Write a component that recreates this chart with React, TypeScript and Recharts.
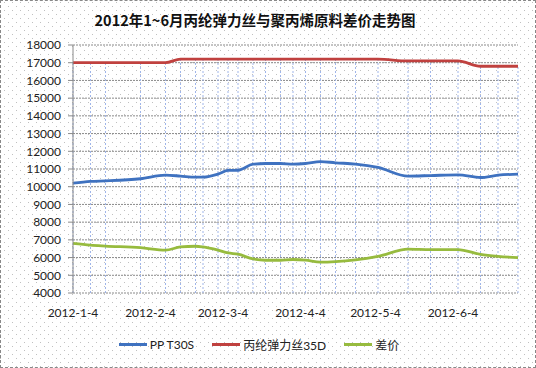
import React from "react";
import {
  LineChart,
  Line,
  XAxis,
  YAxis,
  CartesianGrid,
  ReferenceLine,
  Legend,
} from "recharts";

const dates = [
  "2012-1-4", "2012-1-11", "2012-1-17", "2012-1-31", "2012-2-10", "2012-2-16",
  "2012-2-22", "2012-2-25", "2012-3-2", "2012-3-6", "2012-3-10", "2012-3-16",
  "2012-3-21", "2012-3-27", "2012-4-1", "2012-4-6", "2012-4-12", "2012-4-18",
  "2012-4-26", "2012-5-5", "2012-5-17", "2012-5-26", "2012-6-6", "2012-6-15",
  "2012-6-22", "2012-6-30",
];

const ppT30s = [
  10200, 10300, 10330, 10450, 10650, 10600, 10540, 10540, 10710, 10920, 10930, 11270,
  11310, 11310, 11270, 11310, 11420, 11350, 11280, 11090, 10600, 10630, 10670, 10520,
  10650, 10710,
];

const fiber35d = [
  17000, 17000, 17000, 17000, 17000, 17200, 17200, 17200, 17200, 17200, 17200, 17200,
  17200, 17200, 17200, 17200, 17200, 17200, 17200, 17200, 17100, 17100, 17100, 16800,
  16800, 16800,
];

const spread = [
  6800, 6700, 6650, 6560, 6420, 6600, 6640, 6600, 6420, 6260, 6190, 5920,
  5850, 5850, 5890, 5850, 5740, 5770, 5870, 6070, 6480, 6450, 6450, 6180,
  6070, 6000,
];

const tickDates = ["2012-1-4", "2012-2-4", "2012-3-4", "2012-4-4", "2012-5-4", "2012-6-4"];
const yTicks = [4000, 5000, 6000, 7000, 8000, 9000, 10000, 11000, 12000, 13000, 14000, 15000, 16000, 17000, 18000];

const toTime = (s: string) => {
  const [y, m, d] = s.split("-").map(Number);
  return Date.UTC(y, m - 1, d);
};

const fmtDate = (t: number) => {
  const d = new Date(t);
  return `${d.getUTCFullYear()}-${d.getUTCMonth() + 1}-${d.getUTCDate()}`;
};

const data = dates.map((d, i) => ({
  t: toTime(d),
  pp: ppT30s[i],
  fiber: fiber35d[i],
  spread: spread[i],
}));

const FONT = "Lato, 'Noto Sans CJK SC', sans-serif";

// staggered 1px dot pattern like the Excel chart fill
const DOTS =
  "url(\"data:image/svg+xml;utf8,<svg xmlns='http://www.w3.org/2000/svg' width='8' height='8'><rect x='3' y='1' width='1' height='1' fill='%23c0c0c0'/><rect x='7' y='5' width='1' height='1' fill='%23c0c0c0'/></svg>\")";

const LegendContent = ({ payload }: any) => (
  <div style={{ display: "flex", justifyContent: "center", fontFamily: FONT, fontSize: 12, color: "#222" }}>
    {(payload || []).map((p: any) => (
      <div key={p.value} style={{ display: "flex", alignItems: "center", marginRight: 18 }}>
        <span style={{ display: "inline-block", width: 28, height: 3, background: p.color, marginRight: 3 }} />
        <span>{p.value}</span>
      </div>
    ))}
  </div>
);

export default function App() {
  return (
    <div
      style={{
        position: "fixed",
        left: 0,
        top: 0,
        width: 536,
        height: 368,
        boxSizing: "border-box",
        border: "1px dashed #888",
        backgroundColor: "#fff",
        backgroundImage: DOTS,
        backgroundSize: "8px 8px",
      }}
    >
      <div
        style={{
          position: "absolute",
          top: 8,
          left: 0,
          width: 508,
          textAlign: "center",
          fontFamily: "'Noto Sans CJK SC', sans-serif",
          fontWeight: 700,
          fontSize: 14.5,
          color: "#111",
        }}
      >
        2012年1~6月丙纶弹力丝与聚丙烯原料差价走势图
      </div>
      <div style={{ position: "absolute", left: -1, top: -1 }}>
        <LineChart width={536} height={368} data={data} margin={{ top: 45, right: 18, left: 0, bottom: 45 }}>
          <CartesianGrid vertical={false} stroke="#8a8a8a" strokeDasharray="2 1" />
          <XAxis
            dataKey="t"
            type="number"
            scale="time"
            domain={[toTime(dates[0]), toTime(dates[dates.length - 1])]}
            ticks={tickDates.map(toTime)}
            tickFormatter={fmtDate}
            axisLine={false}
            tickLine={false}
            tickSize={0}
            tickMargin={15}
            height={30}
            tick={{ fontFamily: FONT, fontSize: 12, fill: "#222" }}
          />
          <YAxis
            domain={[4000, 18000]}
            ticks={yTicks}
            interval={0}
            width={73}
            tickSize={5}
            tickMargin={7}
            axisLine={{ stroke: "#8a8a8a" }}
            tickLine={{ stroke: "#8a8a8a" }}
            tick={{ fontFamily: FONT, fontSize: 12, fill: "#222" }}
          />
          {data.map((d) => (
            <ReferenceLine
              key={d.t}
              segment={[
                { x: d.t, y: 4000 },
                { x: d.t, y: Math.max(d.pp, d.fiber, d.spread) },
              ]}
              stroke="#9fb5ea"
              strokeDasharray="2 2"
            />
          ))}
          <Line type="monotone" dataKey="pp" name="PP T30S" stroke="#3f72c0" strokeWidth={2.8} dot={false} isAnimationActive={false} />
          <Line type="monotone" dataKey="fiber" name="丙纶弹力丝35D" stroke="#c0413f" strokeWidth={2.8} dot={false} isAnimationActive={false} />
          <Line type="monotone" dataKey="spread" name="差价" stroke="#97bb3e" strokeWidth={2.8} dot={false} isAnimationActive={false} />
          <Legend
            layout="horizontal"
            verticalAlign="middle"
            align="center"
            content={<LegendContent />}
            wrapperStyle={{ top: 336, left: 0, width: 536 }}
          />
        </LineChart>
      </div>
    </div>
  );
}
